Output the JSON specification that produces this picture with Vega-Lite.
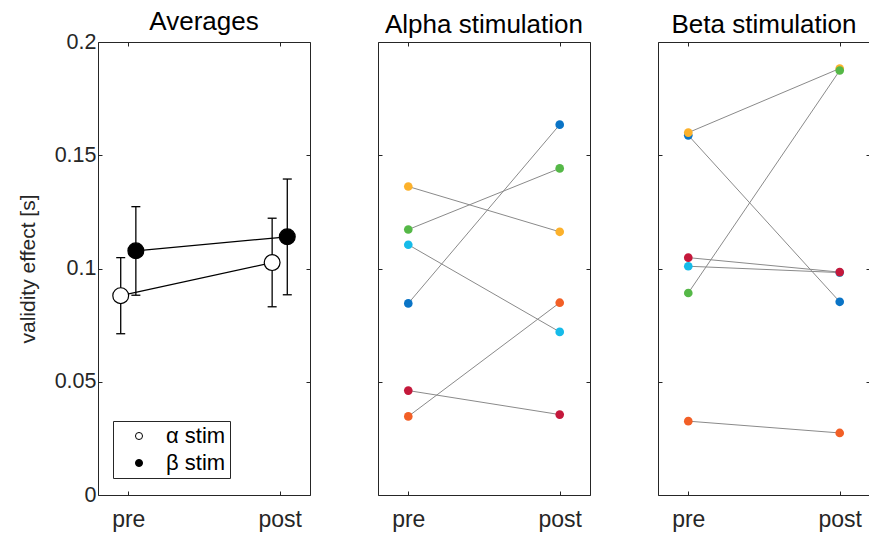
{
  "$schema": "https://vega.github.io/schema/vega-lite/v6.json",
  "padding": {"left": 16, "top": 8, "right": 0, "bottom": 0},
  "spacing": 66,
  "datasets": {
    "avg": [
      {"cond": "α stim", "phase": "pre", "m": 0.0880, "lo": 0.0712, "hi": 0.1048},
      {"cond": "α stim", "phase": "post", "m": 0.1026, "lo": 0.0831, "hi": 0.1222},
      {"cond": "β stim", "phase": "pre", "m": 0.1078, "lo": 0.0882, "hi": 0.1273},
      {"cond": "β stim", "phase": "post", "m": 0.1140, "lo": 0.0884, "hi": 0.1395}
    ],
    "subj": [
      {"stim": "alpha", "subject": "s1", "phase": "pre", "v": 0.0846},
      {"stim": "alpha", "subject": "s1", "phase": "post", "v": 0.1635},
      {"stim": "alpha", "subject": "s2", "phase": "pre", "v": 0.0347},
      {"stim": "alpha", "subject": "s2", "phase": "post", "v": 0.0849},
      {"stim": "alpha", "subject": "s3", "phase": "pre", "v": 0.1362},
      {"stim": "alpha", "subject": "s3", "phase": "post", "v": 0.1162},
      {"stim": "alpha", "subject": "s4", "phase": "pre", "v": 0.1172},
      {"stim": "alpha", "subject": "s4", "phase": "post", "v": 0.1442},
      {"stim": "alpha", "subject": "s5", "phase": "pre", "v": 0.1105},
      {"stim": "alpha", "subject": "s5", "phase": "post", "v": 0.0720},
      {"stim": "alpha", "subject": "s6", "phase": "pre", "v": 0.0461},
      {"stim": "alpha", "subject": "s6", "phase": "post", "v": 0.0355},
      {"stim": "beta", "subject": "s1", "phase": "pre", "v": 0.1588},
      {"stim": "beta", "subject": "s1", "phase": "post", "v": 0.0853},
      {"stim": "beta", "subject": "s2", "phase": "pre", "v": 0.0326},
      {"stim": "beta", "subject": "s2", "phase": "post", "v": 0.0274},
      {"stim": "beta", "subject": "s3", "phase": "pre", "v": 0.1600},
      {"stim": "beta", "subject": "s3", "phase": "post", "v": 0.1883},
      {"stim": "beta", "subject": "s4", "phase": "pre", "v": 0.0892},
      {"stim": "beta", "subject": "s4", "phase": "post", "v": 0.1874},
      {"stim": "beta", "subject": "s5", "phase": "pre", "v": 0.1010},
      {"stim": "beta", "subject": "s5", "phase": "post", "v": 0.0982},
      {"stim": "beta", "subject": "s6", "phase": "pre", "v": 0.1048},
      {"stim": "beta", "subject": "s6", "phase": "post", "v": 0.0984}
    ]
  },
  "config": {
    "font": "Liberation Sans",
    "view": {"stroke": "#262626", "strokeWidth": 1},
    "axis": {
      "domain": false,
      "grid": false,
      "tickColor": "#262626",
      "tickWidth": 1,
      "tickSize": -4,
      "labelColor": "#262626",
      "labelFont": "Liberation Sans",
      "labelFontSize": 21.5,
      "titleFont": "Liberation Sans",
      "titleFontSize": 21,
      "titleFontWeight": "normal",
      "titleColor": "#262626"
    },
    "axisX": {"labelFontSize": 23},
    "title": {"font": "Liberation Sans", "fontSize": 26, "fontWeight": "normal", "color": "#000000"}
  },
  "hconcat": [
    {
      "title": {"text": "Averages", "offset": -4},
      "width": 212,
      "height": 453,
      "data": {"name": "avg"},
      "transform": [
        {"calculate": "(datum.phase == 'pre' ? 1 : 2) + (datum.cond == 'α stim' ? -0.05 : 0.05)", "as": "xpos"}
      ],
      "resolve": {"axis": {"x": "independent", "y": "independent"}},
      "layer": [
        {
          "mark": {"type": "line", "color": "#000000", "strokeWidth": 1.2},
          "encoding": {
            "x": {"field": "xpos", "type": "quantitative", "scale": {"domain": [0.8, 2.2], "nice": false},
                  "axis": {"orient": "bottom", "values": [1, 2], "labelExpr": "datum.value == 1 ? 'pre' : 'post'", "labelPadding": 17, "title": null}},
            "y": {"field": "m", "type": "quantitative", "scale": {"domain": [0, 0.2], "nice": false, "zero": false},
                  "axis": {"orient": "left", "values": [0, 0.05, 0.1, 0.15, 0.2], "format": ".2~f", "labelPadding": 6, "title": "validity effect [s]", "titlePadding": 16}},
            "detail": {"field": "cond"}
          }
        },
        {
          "mark": {"type": "rule", "color": "#000000", "strokeWidth": 1.3},
          "encoding": {
            "x": {"field": "xpos", "type": "quantitative", "axis": null},
            "y": {"field": "lo", "type": "quantitative", "axis": null},
            "y2": {"field": "hi"}
          }
        },
        {
          "mark": {"type": "tick", "orient": "horizontal", "color": "#000000", "size": 9, "thickness": 1.3, "opacity": 1},
          "encoding": {
            "x": {"field": "xpos", "type": "quantitative", "axis": null},
            "y": {"field": "lo", "type": "quantitative", "axis": null}
          }
        },
        {
          "mark": {"type": "tick", "orient": "horizontal", "color": "#000000", "size": 9, "thickness": 1.3, "opacity": 1},
          "encoding": {
            "x": {"field": "xpos", "type": "quantitative", "axis": null},
            "y": {"field": "hi", "type": "quantitative", "axis": null}
          }
        },
        {
          "mark": {"type": "point", "shape": "circle", "filled": true, "size": 250, "stroke": "#000000", "strokeWidth": 1.2, "opacity": 1},
          "encoding": {
            "x": {"field": "xpos", "type": "quantitative",
                  "axis": {"orient": "top", "values": [1, 2], "labels": false, "title": null}},
            "y": {"field": "m", "type": "quantitative",
                  "axis": {"orient": "right", "values": [0, 0.05, 0.1, 0.15, 0.2], "labels": false, "title": null}},
            "fill": {
              "field": "cond", "type": "nominal",
              "scale": {"domain": ["α stim", "β stim"], "range": ["#ffffff", "#000000"]},
              "legend": {
                "orient": "none", "legendX": 15, "legendY": 379,
                "title": null,
                "strokeColor": "#262626", "fillColor": "#ffffff",
                "padding": 4,
                "symbolType": "circle", "symbolSize": 50,
                "symbolStrokeColor": "#000000", "symbolStrokeWidth": 1,
                "symbolOffset": 11,
                "labelOffset": 16,
                "labelFont": "Liberation Sans", "labelFontSize": 22, "labelColor": "#000000",
                "rowPadding": 5
              }
            }
          }
        }
      ]
    },
    {
      "title": {"text": "Alpha stimulation", "offset": 4},
      "width": 212,
      "height": 453,
      "data": {"name": "subj"},
      "transform": [
        {"filter": "datum.stim == 'alpha'"},
        {"calculate": "datum.phase == 'pre' ? 1 : 2", "as": "xpos"}
      ],
      "resolve": {"axis": {"x": "independent", "y": "independent"}},
      "layer": [
        {
          "mark": {"type": "line", "color": "#8a8a8a", "strokeWidth": 1},
          "encoding": {
            "x": {"field": "xpos", "type": "quantitative", "scale": {"domain": [0.8, 2.2], "nice": false},
                  "axis": {"orient": "bottom", "values": [1, 2], "labelExpr": "datum.value == 1 ? 'pre' : 'post'", "labelPadding": 17, "title": null}},
            "y": {"field": "v", "type": "quantitative", "scale": {"domain": [0, 0.2], "nice": false, "zero": false},
                  "axis": {"orient": "left", "values": [0, 0.05, 0.1, 0.15, 0.2], "labels": false, "title": null}},
            "detail": {"field": "subject"}
          }
        },
        {
          "mark": {"type": "circle", "size": 75, "opacity": 1},
          "encoding": {
            "x": {"field": "xpos", "type": "quantitative",
                  "axis": {"orient": "top", "values": [1, 2], "labels": false, "title": null}},
            "y": {"field": "v", "type": "quantitative",
                  "axis": {"orient": "right", "values": [0, 0.05, 0.1, 0.15, 0.2], "labels": false, "title": null}},
            "color": {"field": "subject", "type": "nominal", "legend": null,
                      "scale": {"domain": ["s1", "s2", "s3", "s4", "s5", "s6"],
                                "range": ["#0a74c6", "#f25f26", "#fcb12b", "#55b847", "#16bbe9", "#c4183b"]}}
          }
        }
      ]
    },
    {
      "title": {"text": "Beta stimulation", "offset": 4},
      "width": 212,
      "height": 453,
      "data": {"name": "subj"},
      "transform": [
        {"filter": "datum.stim == 'beta'"},
        {"calculate": "datum.phase == 'pre' ? 1 : 2", "as": "xpos"}
      ],
      "resolve": {"axis": {"x": "independent", "y": "independent"}},
      "layer": [
        {
          "mark": {"type": "line", "color": "#8a8a8a", "strokeWidth": 1},
          "encoding": {
            "x": {"field": "xpos", "type": "quantitative", "scale": {"domain": [0.8, 2.2], "nice": false},
                  "axis": {"orient": "bottom", "values": [1, 2], "labelExpr": "datum.value == 1 ? 'pre' : 'post'", "labelPadding": 17, "title": null}},
            "y": {"field": "v", "type": "quantitative", "scale": {"domain": [0, 0.2], "nice": false, "zero": false},
                  "axis": {"orient": "left", "values": [0, 0.05, 0.1, 0.15, 0.2], "labels": false, "title": null}},
            "detail": {"field": "subject"}
          }
        },
        {
          "mark": {"type": "circle", "size": 75, "opacity": 1},
          "encoding": {
            "x": {"field": "xpos", "type": "quantitative",
                  "axis": {"orient": "top", "values": [1, 2], "labels": false, "title": null}},
            "y": {"field": "v", "type": "quantitative",
                  "axis": {"orient": "right", "values": [0, 0.05, 0.1, 0.15, 0.2], "labels": false, "title": null}},
            "color": {"field": "subject", "type": "nominal", "legend": null,
                      "scale": {"domain": ["s1", "s2", "s3", "s4", "s5", "s6"],
                                "range": ["#0a74c6", "#f25f26", "#fcb12b", "#55b847", "#16bbe9", "#c4183b"]}}
          }
        }
      ]
    }
  ]
}
